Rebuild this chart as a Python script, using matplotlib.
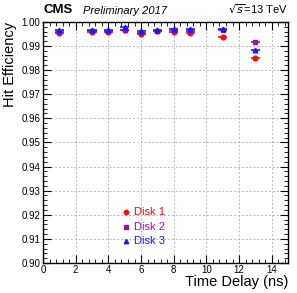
import matplotlib
matplotlib.use("Agg")
import matplotlib.pyplot as plt
from matplotlib.ticker import MultipleLocator

# ── Data ──────────────────────────────────────────────────────────────────────
delay = [1, 3, 4, 5, 6, 7, 8, 9, 11, 13]
disk1 = [0.9953, 0.9957, 0.9957, 0.9966, 0.9949, 0.9963, 0.9958, 0.9955, 0.9939, 0.9850]
disk2 = [0.9960, 0.9962, 0.9963, 0.9968, 0.9954, 0.9964, 0.9966, 0.9963, 0.9968, 0.9918]
disk3 = [0.9967, 0.9968, 0.9967, 0.9978, 0.9962, 0.9965, 0.9972, 0.9970, 0.9970, 0.9883]
x_half_width = 0.28
y_err = 0.0004

series = [
    ("Disk 1", disk1, "#ee1010", "o"),
    ("Disk 2", disk2, "#a010a8", "s"),
    ("Disk 3", disk3, "#1a1aee", "^"),
]

plt.rcParams['font.family'] = ['Liberation Sans', 'DejaVu Sans']

fig = plt.figure(figsize=(2.97, 2.93), dpi=100)
ax = fig.add_axes([0.145, 0.1024, 0.825, 0.823])

for label, vals, color, marker in series:
    ax.errorbar(delay, vals, xerr=x_half_width, yerr=y_err, fmt=marker,
                color=color, ms=3.4, elinewidth=1.2, capsize=0, zorder=3)

ax.set_xlim(0, 15)
ax.set_ylim(0.90, 1.00)
ax.xaxis.set_major_locator(MultipleLocator(2))
ax.xaxis.set_minor_locator(MultipleLocator(0.4))
ax.yaxis.set_major_locator(MultipleLocator(0.01))
ax.yaxis.set_minor_locator(MultipleLocator(0.002))
ax.yaxis.set_major_formatter(plt.FormatStrFormatter('%.2f'))
ax.tick_params(which='both', direction='in', top=True, right=True, labelsize=7, pad=2)
ax.tick_params(axis='x', pad=1.5)
ax.tick_params(which='major', length=6, width=0.8)
ax.tick_params(which='minor', length=3, width=0.6)
ax.grid(True, which='major', ls=(0, (2, 2)), color='#b8b8b8', lw=0.7)
for s in ax.spines.values():
    s.set_linewidth(1.0)

ax.set_ylabel("Hit Efficiency", fontsize=10.5, loc='top', labelpad=3)
ax.set_xlabel("Time Delay (ns)", fontsize=10.5, loc='right', labelpad=0)

# legend drawn by hand so text takes marker color
leg_y = [0.921, 0.915, 0.909]
for (label, vals, color, marker), yy in zip(series, leg_y):
    ax.plot([5.1], [yy], marker=marker, color=color, ms=3.2, ls='none')
    ax.text(5.55, yy, label, color=color, fontsize=8, va='center', ha='left')

fig.text(0.145, 0.945, "CMS", fontsize=9.5, fontweight='bold', ha='left', va='bottom')
fig.text(0.28, 0.945, "Preliminary 2017", fontsize=8, style='italic', ha='left', va='bottom')
fig.text(0.97, 0.945, r"$\sqrt{s}$=13 TeV", fontsize=8, ha='right', va='bottom')

fig.savefig("out.png", dpi=100)
